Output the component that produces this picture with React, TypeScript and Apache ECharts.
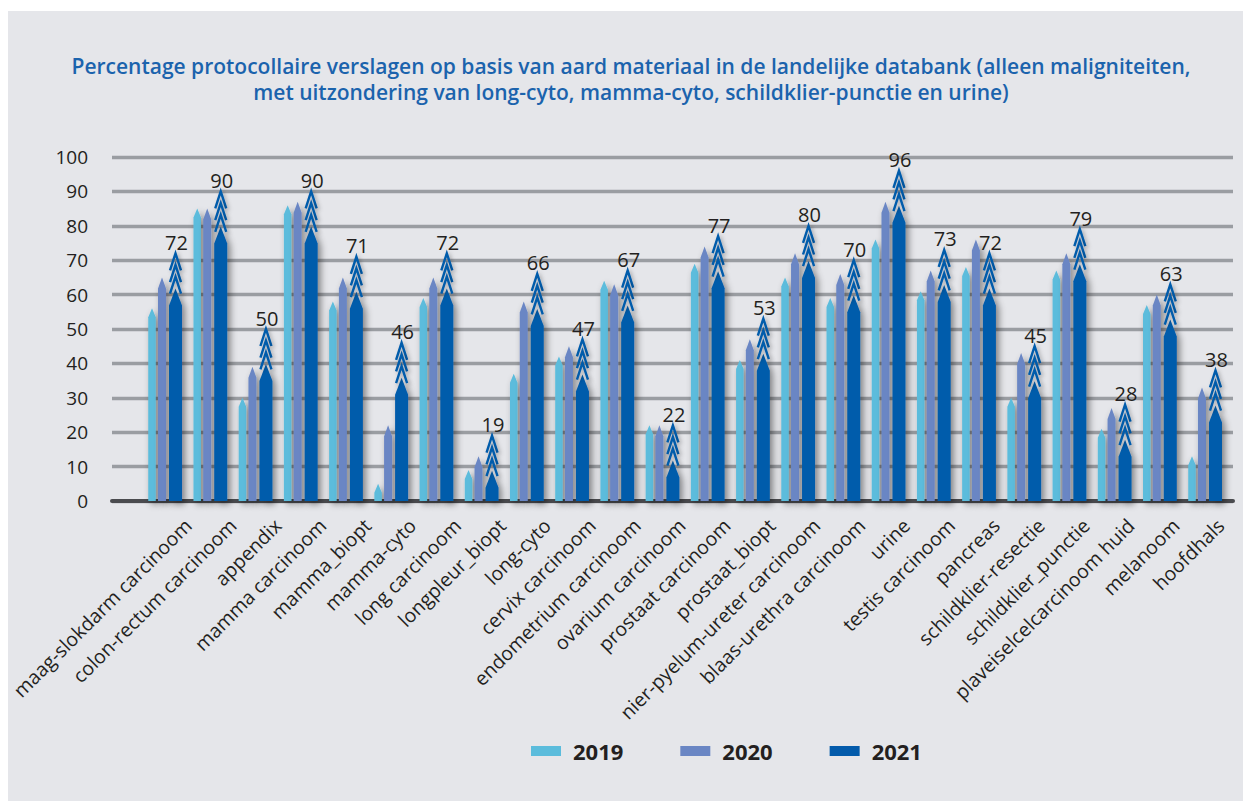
import React, { useEffect, useRef } from "react";
import * as echarts from "echarts";

const categories = [
  "maag-slokdarm carcinoom", "colon-rectum carcinoom", "appendix", "mamma carcinoom",
  "mamma_biopt", "mamma-cyto", "long carcinoom", "longpleur_biopt", "long-cyto",
  "cervix carcinoom", "endometrium carcinoom", "ovarium carcinoom", "prostaat carcinoom",
  "prostaat_biopt", "nier-pyelum-ureter carcinoom", "blaas-urethra carcinoom", "urine",
  "testis carcinoom", "pancreas", "schildklier-resectie", "schildklier_punctie",
  "plaveiselcelcarcinoom huid", "melanoom", "hoofdhals",
];
const v2019 = [56, 85, 30, 86, 58, 5, 59, 9, 37, 42, 64, 22, 69, 41, 65, 59, 76, 61, 68, 30, 67, 21, 57, 13];
const v2020 = [65, 85, 39, 87, 65, 22, 65, 13, 58, 45, 63, 22, 74, 47, 72, 66, 87, 67, 76, 43, 72, 27, 60, 33];
const v2021 = [72, 90, 50, 90, 71, 46, 72, 19, 66, 47, 67, 22, 77, 53, 80, 70, 96, 73, 72, 45, 79, 28, 63, 38];
const years = ["2019", "2020", "2021"];
const yTicks = [0, 10, 20, 30, 40, 50, 60, 70, 80, 90, 100];

const C2019 = "#5bbcdc";
const C2020 = "#6a86c4";
const C2021 = "#035bab";
const FONT = "'Open Sans', 'Noto Sans', sans-serif";
const TXT = "#231f20";

const shadow = {
  shadowColor: "rgba(0,0,0,0.45)",
  shadowBlur: 7,
  shadowOffsetX: 3,
  shadowOffsetY: 3,
};

function simpleBar(offset: number, w: number, tipH: number, color: string) {
  return (params: any, api: any) => {
    const i = api.value(0);
    const v = api.value(1);
    const top = api.coord([i, v]);
    const base = api.coord([i, 0]);
    const x = top[0] + offset;
    const ty = top[1];
    const by = base[1];
    return {
      type: "polygon",
      shape: {
        points: [
          [x - w / 2, by],
          [x - w / 2, ty + tipH],
          [x, ty],
          [x + w / 2, ty + tipH],
          [x + w / 2, by],
        ],
      },
      style: { fill: color, ...shadow },
    };
  };
}

function bar2021(offset: number, w: number, tipH: number, color: string) {
  return (params: any, api: any) => {
    const i = api.value(0);
    const v = api.value(1);
    const top = api.coord([i, v]);
    const base = api.coord([i, 0]);
    const x = top[0] + offset;
    const ty = top[1];
    const by = base[1];
    const gap = 11.7;
    const solidTop = ty + 3 * gap;
    const children: any[] = [
      {
        type: "polygon",
        shape: {
          points: [
            [x - w / 2, by],
            [x - w / 2, solidTop + tipH],
            [x, solidTop],
            [x + w / 2, solidTop + tipH],
            [x + w / 2, by],
          ],
        },
        style: { fill: color, ...shadow },
      },
    ];
    for (let k = 0; k < 3; k++) {
      const ay = ty + k * gap;
      children.push({
        type: "polyline",
        shape: {
          points: [
            [x - w / 2 + 1, ay + tipH],
            [x, ay],
            [x + w / 2 - 1, ay + tipH],
          ],
        },
        style: { stroke: color, lineWidth: 2.4, fill: "none", shadowColor: "rgba(0,0,0,0.3)", shadowBlur: 4, shadowOffsetX: 2, shadowOffsetY: 2 },
      });
    }
    children.push({
      type: "text",
      style: {
        text: String(v),
        x: x + 1,
        y: ty - 1,
        textAlign: "center",
        align: "center",
        textVerticalAlign: "bottom",
        verticalAlign: "bottom",
        fontSize: 20,
        fontFamily: FONT,
        fill: TXT,
      },
    });
    return { type: "group", children };
  };
}

export default function App() {
  const ref = useRef<HTMLDivElement>(null);
  useEffect(() => {
    if (!ref.current) return;
    const chart = echarts.init(ref.current, null, { renderer: "svg" });
    const gridTop = 157;
    const gridHeight = 344;
    const toData = (arr: number[]) => arr.map((v, i) => [i, v]);
    chart.setOption({
      animation: false,
      backgroundColor: "#ffffff",
      graphic: [
        {
          type: "rect",
          z: -100,
          shape: { x: 8, y: 11, width: 1235, height: 790 },
          style: { fill: "#e5e6ea" },
        },
      ],
      title: {
        text:
          "Percentage protocollaire verslagen op basis van aard materiaal in de landelijke databank (alleen maligniteiten,\nmet uitzondering van long-cyto, mamma-cyto, schildklier-punctie en urine)",
        left: 631,
        top: 53,
        padding: 0,
        textAlign: "center",
        textStyle: {
          fontFamily: FONT,
          fontSize: 21,
          fontWeight: 600,
          color: "#1b63ad",
          lineHeight: 26,
        },
      },
      legend: {
        data: years,
        left: 531,
        top: 740,
        padding: 0,
        icon: "rect",
        itemWidth: 30,
        itemHeight: 10,
        itemGap: 57,
        textStyle: {
          fontFamily: FONT,
          fontSize: 22,
          fontWeight: "bold",
          color: TXT,
          padding: [0, 0, 0, 7],
        },
      },
      grid: [
        { left: 112, top: gridTop, width: 1121, height: gridHeight },
        { left: 142.4, top: gridTop, width: 1085.2, height: gridHeight },
        { left: 165.4, top: gridTop, width: 1085.2, height: gridHeight },
      ],
      xAxis: [
        {
          gridIndex: 0,
          type: "value",
          min: 0,
          max: 1,
          axisLine: { show: true, lineStyle: { color: "#4a4b4f", width: 4 } },
          axisTick: { show: false },
          axisLabel: { show: false },
          splitLine: { show: false },
        },
        {
          gridIndex: 1,
          type: "category",
          data: categories,
          show: false,
        },
        {
          gridIndex: 2,
          type: "category",
          data: categories,
          axisLine: { show: false },
          axisTick: { show: false },
          axisLabel: {
            interval: 0,
            rotate: 45,
            margin: 21,
            fontSize: 19.5,
            fontFamily: FONT,
            color: TXT,
          },
        },
      ],
      yAxis: [
        {
          gridIndex: 0,
          type: "value",
          min: 0,
          max: 100,
          interval: 10,
          axisLine: { show: false },
          axisTick: { show: false },
          axisLabel: {
            margin: 24,
            fontSize: 19,
            fontFamily: FONT,
            color: TXT,
            formatter: (v: number) => (yTicks.includes(v) ? String(v) : ""),
          },
          splitLine: { show: true, lineStyle: { color: "#9a9da2", width: 3.3 } },
        },
        { gridIndex: 1, type: "value", min: 0, max: 100, show: false },
        { gridIndex: 2, type: "value", min: 0, max: 100, show: false },
      ],
      series: [
        {
          name: "2019",
          type: "custom",
          xAxisIndex: 1,
          yAxisIndex: 1,
          itemStyle: { color: C2019 },
          renderItem: simpleBar(-13, 7.5, 9, C2019),
          data: toData(v2019),
        },
        {
          name: "2020",
          type: "custom",
          xAxisIndex: 1,
          yAxisIndex: 1,
          itemStyle: { color: C2020 },
          renderItem: simpleBar(-3, 8, 11, C2020),
          data: toData(v2020),
        },
        {
          name: "2021",
          type: "custom",
          xAxisIndex: 1,
          yAxisIndex: 1,
          itemStyle: { color: C2021 },
          renderItem: bar2021(10.5, 13, 17, C2021),
          data: toData(v2021),
        },
      ],
    });
    return () => chart.dispose();
  }, []);
  return (
    <div
      ref={ref}
      style={{ position: "fixed", left: 0, top: 0, width: 1243, height: 801 }}
    />
  );
}
